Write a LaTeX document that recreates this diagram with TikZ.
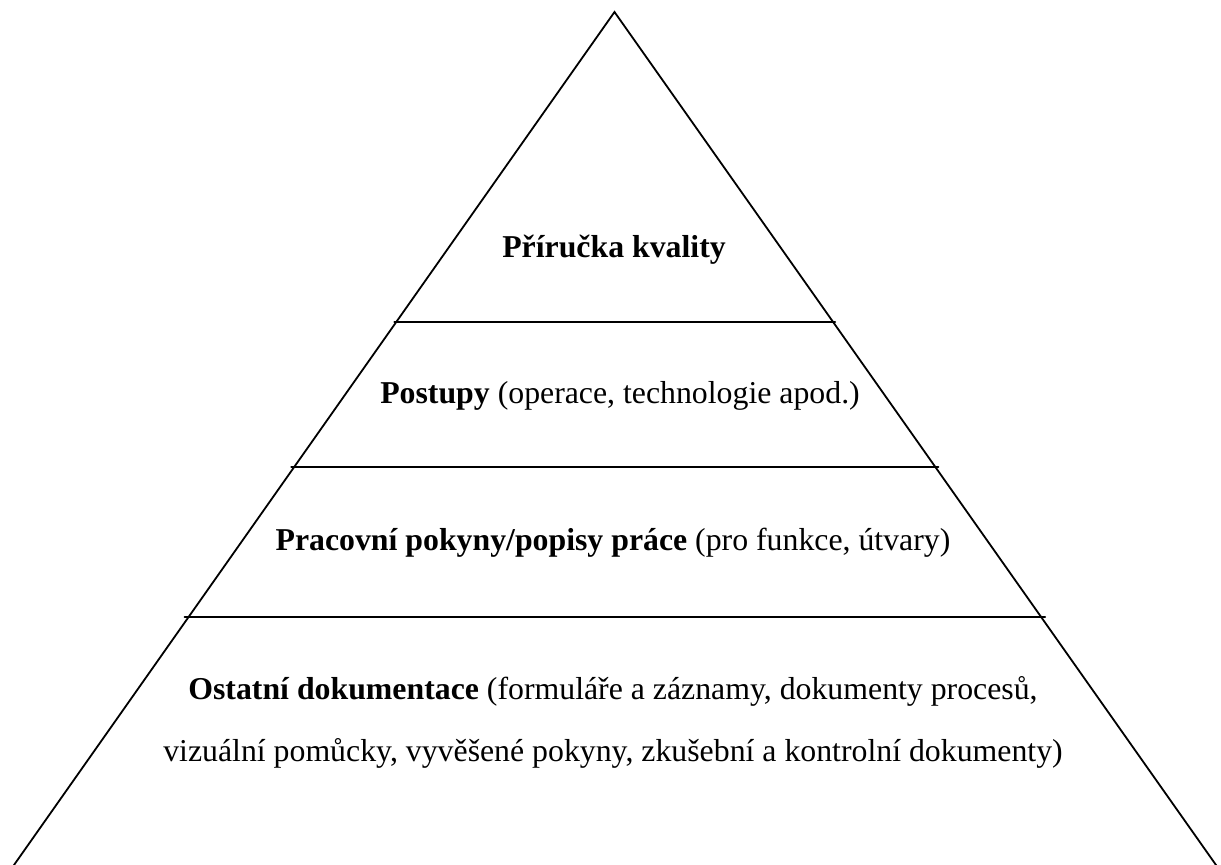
\documentclass[tikz,border=0pt]{standalone}
\usepackage{fontspec}
\setmainfont{Liberation Serif}
\usetikzlibrary{calc}
\usetikzlibrary{positioning}

\tikzset{
  level/.style={font=\fontsize{15.9}{19}\selectfont, align=center},
  edge/.style={line width=0.9pt, line cap=round, line join=miter}
}

\begin{document}
\begin{tikzpicture}[x=0.5pt,y=-0.5pt]
\useasboundingbox (0,0) rectangle (1221,865);
\clip (0,0) rectangle (1221,865);
\coordinate (apex) at (614.5,12);
\coordinate (bl) at (14,865);
\coordinate (br) at (1216,865);
% sides
\draw [edge] ($(apex)!1.05!(bl)$)-- (apex)-- ($(apex)!1.05!(br)$);
% levels
\coordinate (l1) at ($(apex)!{(322-12)/853}!(bl)$);
\coordinate (r1) at ($(apex)!{(322-12)/853}!(br)$);
\coordinate (l2) at ($(apex)!{(467-12)/853}!(bl)$);
\coordinate (r2) at ($(apex)!{(467-12)/853}!(br)$);
\coordinate (l3) at ($(apex)!{(617-12)/853}!(bl)$);
\coordinate (r3) at ($(apex)!{(617-12)/853}!(br)$);
\draw [edge, shorten <=-1pt, shorten >=-1pt] (l1)-- (r1);
\draw [edge, shorten <=-1.5pt, shorten >=-1.5pt] (l2)-- (r2);
\draw [edge, shorten <=-2pt, shorten >=-2pt] (l3)-- (r3);
% labels
\node [level] (manual) at (614,250) {\textbf{Příručka kvality}};
\node [level] (procedures) at (620,396) {\textbf{Postupy} (operace, technologie apod.)};
\node [level] (instructions) at (613,543) {\textbf{Pracovní pokyny/popisy práce} (pro funkce, útvary)};
\node [level, text depth=0pt] (other) at (613,719) {\textbf{Ostatní dokumentace} (formuláře a záznamy, dokumenty procesů,\\[12pt]
vizuální pomůcky, vyvěšené pokyny, zkušební a kontrolní dokumenty)};
\end{tikzpicture}
\end{document}
